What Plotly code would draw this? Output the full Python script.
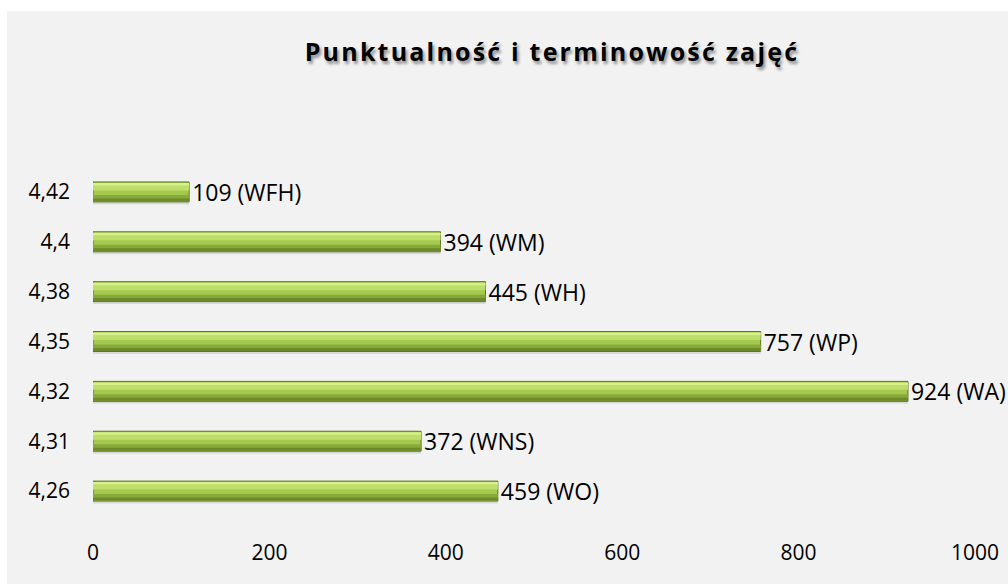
import plotly.graph_objects as go

# Data (bottom to top as drawn)
categories = ["4,26", "4,31", "4,32", "4,35", "4,38", "4,4", "4,42"]
values = [459, 372, 924, 757, 445, 394, 109]
units = ["WO", "WNS", "WA", "WP", "WH", "WM", "WFH"]
labels = [f"{v} ({u})" for v, u in zip(values, units)]

FONT = "Open Sans"
L, R, T, B = 93, 33, 167, 68
W, H = 1008, 584
pw, ph = W - L - R, H - T - B

fig = go.Figure()

# shadow under bar
fig.add_trace(go.Bar(y=categories, x=values, orientation="h", width=0.07, offset=-0.25,
                     marker=dict(color="rgba(0,0,0,0.10)", line=dict(width=0)),
                     hoverinfo="skip", showlegend=False))
# main bar
fig.add_trace(go.Bar(y=categories, x=values, orientation="h", width=0.40, offset=-0.20,
                     marker=dict(color="#A5C94E", line=dict(color="#5A7421", width=1)),
                     text=labels, textposition="outside", constraintext="none", cliponaxis=False,
                     textfont=dict(family=FONT, size=23, color="#000000"),
                     hoverinfo="skip", showlegend=False))
# lower darker bands
fig.add_trace(go.Bar(y=categories, x=values, orientation="h", width=0.13, offset=-0.19,
                     marker=dict(color="#88A83A", line=dict(width=0)),
                     hoverinfo="skip", showlegend=False))
fig.add_trace(go.Bar(y=categories, x=values, orientation="h", width=0.06, offset=-0.19,
                     marker=dict(color="#6D8A2A", line=dict(width=0)),
                     hoverinfo="skip", showlegend=False))
# upper highlight bands
fig.add_trace(go.Bar(y=categories, x=values, orientation="h", width=0.14, offset=0.03,
                     marker=dict(color="#BEDD6B", line=dict(width=0)),
                     hoverinfo="skip", showlegend=False))
fig.add_trace(go.Bar(y=categories, x=values, orientation="h", width=0.05, offset=0.13,
                     marker=dict(color="#D6F08A", line=dict(width=0)),
                     hoverinfo="skip", showlegend=False))

# grey panel background
fig.add_shape(type="rect", xref="paper", yref="paper", layer="below",
              x0=(7 - L) / pw, x1=(W + 5 - L) / pw,
              y0=(H - B - (H + 5)) / ph, y1=(H - B - 11) / ph,
              fillcolor="#F2F2F2", line=dict(width=0))

fig.update_layout(
    width=W, height=H,
    margin=dict(l=L, r=R, t=T, b=B, autoexpand=False),
    paper_bgcolor="#FFFFFF", plot_bgcolor="rgba(0,0,0,0)",
    barmode="overlay",
    title=dict(text="<b>Punktualność i terminowość zajęć</b>",
               x=552 / W, xanchor="center", y=1 - 52 / H, yanchor="middle",
               font=dict(family="Open Sans", size=25, color="#000000",
                         shadow="2px 3px 3px rgba(0,0,0,0.4)")),
    xaxis=dict(range=[0, 1000], tickvals=[0, 200, 400, 600, 800, 1000],
               showgrid=False, zeroline=False, showline=False, ticks="",
               ticklabelstandoff=22,
               tickfont=dict(family=FONT, size=21, color="#000000")),
    yaxis=dict(categoryorder="array", categoryarray=categories,
               showgrid=False, zeroline=False, showline=False, ticks="",
               ticklabelstandoff=22,
               tickfont=dict(family=FONT, size=21, color="#000000")),
)

post = """
document.body.style.margin = '0';
document.querySelectorAll('.gtitle').forEach(function(t){ t.style.letterSpacing = '2.2px'; });
"""
fig.write_html("out.html", post_script=post, config={"displayModeBar": False})
